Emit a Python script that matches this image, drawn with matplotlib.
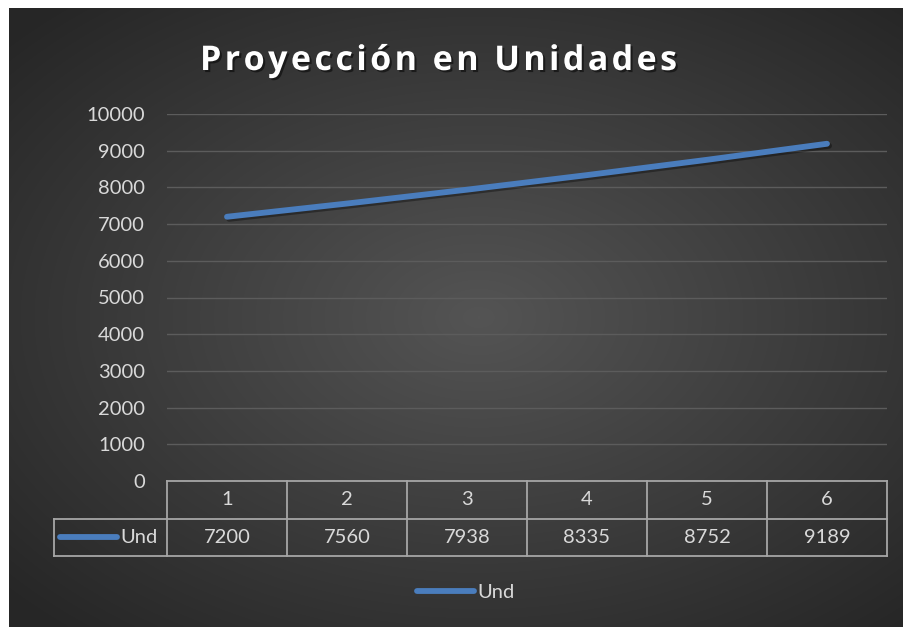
import numpy as np
import matplotlib
matplotlib.use("Agg")
import matplotlib.pyplot as plt
from matplotlib.lines import Line2D
import matplotlib.patheffects as pe

periods = [1, 2, 3, 4, 5, 6]
units = [7200, 7560, 7938, 8335, 8752, 9189]
series_name = "Und"
title = "Proyección en Unidades"
yticks = list(range(0, 10001, 1000))

W, H = 904, 627
fig = plt.figure(figsize=(W / 100, H / 100), dpi=100)
fig.patch.set_facecolor("white")
FONT = "Lato"
TXT = "#d9d9d9"
LINEC = "#4a7dbd"
FS = 14.5

def fx(p):
    return p / W

def fy(p):
    return 1 - p / H

# background with radial gradient
bg = fig.add_axes([fx(9), 0, 1 - fx(9), fy(8)])
bg.set_axis_off()
gx, gy = np.meshgrid(np.linspace(-1, 1, 400), np.linspace(-1, 1, 300))
r = np.sqrt(((gx - 0.05) * 0.95) ** 2 + (gy * 1.0) ** 2)
r = np.clip(r / 1.35, 0, 1)
v = 0.33 - 0.18 * r
img = np.dstack([v, v, v])
bg.imshow(img, aspect="auto", extent=[0, 1, 0, 1], interpolation="bilinear")
bg.set_xlim(0, 1)
bg.set_ylim(0, 1)

# main axes
ax = fig.add_axes([fx(167), fy(481), fx(887) - fx(167), fy(114) - fy(481)])
ax.patch.set_alpha(0)
ax.set_xlim(0.5, 6.5)
ax.set_ylim(0, 10000)
for s in ax.spines.values():
    s.set_visible(False)
ax.set_yticks(yticks)
ax.set_yticklabels([str(t) for t in yticks], fontsize=FS, color=TXT, fontname=FONT)
ax.tick_params(axis="y", length=0, pad=16)
ax.set_xticks([])
for t in yticks[1:]:
    ax.axhline(t, color="#5c5c5c", lw=1.0, zorder=1)
ax.plot(periods, units, color=LINEC, lw=4.2, solid_capstyle="round", zorder=3,
        path_effects=[pe.SimpleLineShadow(offset=(1.5, -1.5), shadow_color="black", alpha=0.35),
                      pe.Normal()])

# data table
tab = fig.add_axes([fx(54), fy(556), fx(887) - fx(54), fy(481) - fy(556)])
tab.patch.set_alpha(0)
left_edge = 0.5 - 113 / 120
tab.set_xlim(left_edge, 6.5)
tab.set_ylim(0, 2)
tab.set_axis_off()
GC = "#a6a6a6"
lw = 1.3
tab.plot([0.5, 6.5], [2, 2], color=GC, lw=lw, clip_on=False)
tab.plot([left_edge, 6.5], [1, 1], color=GC, lw=lw, clip_on=False)
tab.plot([left_edge, 6.5], [0, 0], color=GC, lw=lw, clip_on=False)
for xb in np.arange(0.5, 7.0, 1.0):
    tab.plot([xb, xb], [0, 2], color=GC, lw=lw, clip_on=False)
tab.plot([left_edge, left_edge], [0, 1], color=GC, lw=lw, clip_on=False)
for p, u in zip(periods, units):
    tab.text(p, 1.5, str(p), ha="center", va="center", fontsize=FS, color=TXT, fontname=FONT)
    tab.text(p, 0.5, str(u), ha="center", va="center", fontsize=FS, color=TXT, fontname=FONT)
lx0 = left_edge + 6 / 120
lx1 = left_edge + 63 / 120
tab.plot([lx0, lx1], [0.5, 0.5], color=LINEC, lw=4.2, solid_capstyle="round", clip_on=False)
tab.text(lx1 + 3 / 120, 0.5, series_name, ha="left", va="center", fontsize=FS, color=TXT, fontname=FONT)

# legend
leg = fig.legend([Line2D([0], [0], color=LINEC, lw=4.2, solid_capstyle="round")], [series_name],
                 loc="center", bbox_to_anchor=(fx(466), fy(592)), frameon=False,
                 prop={"family": FONT, "size": FS}, handlelength=2.8, handletextpad=0.2,
                 labelcolor=TXT)

# title with letter spacing, fitted to the reference width
fig.canvas.draw()
renderer = fig.canvas.get_renderer()
TFONT = "Open Sans"
fs = 24.5
widths = []
for ch in title:
    t = fig.text(0, 0, ch if ch != " " else "n", fontsize=fs, fontname=TFONT, fontweight="bold")
    w = t.get_window_extent(renderer).width
    if ch == " ":
        w *= 0.4
    widths.append(w)
    t.remove()
x0, x1 = 200, 677
spacing = (x1 - x0 - sum(widths)) / (len(title) - 1)
x = x0
for ch, w in zip(title, widths):
    if ch != " ":
        fig.text(fx(x), fy(70), ch, fontsize=fs, fontname=TFONT, fontweight="bold",
                 color="white", ha="left", va="baseline",
                 path_effects=[pe.withSimplePatchShadow(offset=(1.5, -1.5), shadow_rgbFace="black", alpha=0.5)])
    x += w + spacing

fig.savefig("out.png", dpi=100, facecolor=fig.get_facecolor())
